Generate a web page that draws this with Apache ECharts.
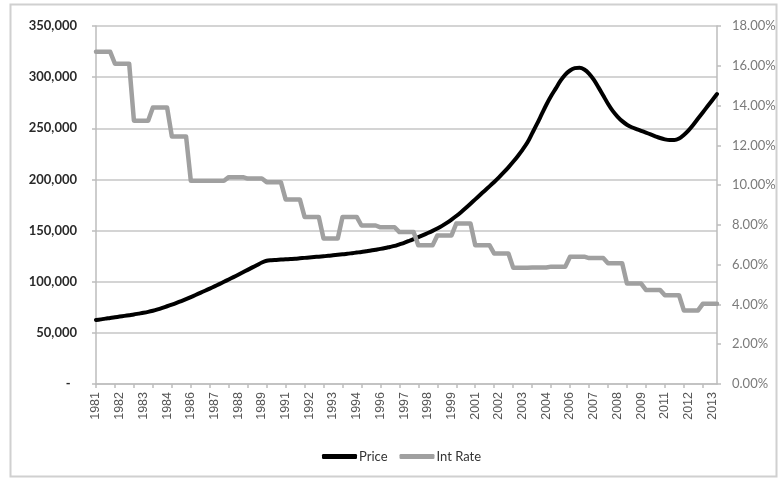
<!DOCTYPE html>
<html>
<head>
<meta charset="utf-8">
<title>Price vs Int Rate</title>
<script src="https://cdn.jsdelivr.net/npm/echarts@6/dist/echarts.min.js"></script>
<style>
  html, body { margin: 0; padding: 0; background: #fff; }
  #chart { width: 781px; height: 481px; }
</style>
</head>
<body>
<div id="chart"></div>
<script>
// years on the axis, data is quarterly (1981 Q1 .. 2013 Q4)
const years = [1981, 1982, 1983, 1984, 1985, 1986, 1987, 1988, 1989, 1990, 1991,
  1992, 1993, 1994, 1995, 1996, 1997, 1998, 1999, 2000, 2001, 2002, 2003, 2004,
  2005, 2006, 2007, 2008, 2009, 2010, 2011, 2012, 2013]

// quarterly price
const price = [
  62500, 63200, 63900, 64500, 65200, 65900, 66600, 67300, 68000, 68800,
  69600, 70500, 71600, 72900, 74400, 76000, 77600, 79300, 81100, 83000,
  85000, 87000, 89100, 91200, 93300, 95400, 97600, 99900, 102200, 104500,
  106800, 109200, 111600, 114000, 116400, 118800, 120500, 121000, 121300, 121600,
  121900, 122200, 122500, 122900, 123300, 123700, 124100, 124500, 124900, 125300,
  125800, 126300, 126800, 127300, 127900, 128500, 129100, 129800, 130500, 131300,
  132100, 133000, 134000, 135000, 136500, 138000, 139800, 141700, 143600, 145600,
  147600, 149700, 152000, 154600, 157500, 160700, 164200, 168000, 172000, 176200,
  180500, 184800, 189000, 193200, 197500, 202000, 206800, 211800, 217200, 223000,
  229200, 236000, 245000, 254000, 263500, 273000, 281500, 289000, 296500, 302500,
  306500, 308800, 309200, 307500, 303500, 297500, 290000, 282000, 274000, 267000,
  261500, 257000, 253500, 251000, 249200, 247500, 245800, 244000, 242200, 240500,
  239200, 238500, 238500, 240000, 243500, 248000, 253500, 259500, 265500, 271500,
  277500, 283500
]

// yearly interest rate (%), held flat for the four quarters of each year
const intRateYearly = [16.7, 16.1, 13.24, 13.9, 12.45, 10.22, 10.22, 10.4, 10.33,
  10.15, 9.28, 8.4, 7.32, 8.4, 7.97, 7.88, 7.64, 6.97, 7.47, 8.07, 6.98, 6.56,
  5.85, 5.86, 5.9, 6.4, 6.33, 6.07, 5.05, 4.73, 4.46, 3.7, 4.03]

const quarters = []
const intRate = []
years.forEach((y, k) => {
  for (let q = 1; q <= 4; q++) {
    quarters.push(y + ' Q' + q)
    intRate.push(intRateYearly[k])
  }
})

const chart = echarts.init(document.getElementById('chart'))

const option = {
  animation: false,
  backgroundColor: '#fff',
  graphic: [{
    type: 'rect',
    shape: { x: 10.5, y: 4.5, width: 766, height: 472 },
    style: { fill: 'none', stroke: '#d0d0d0', lineWidth: 2 },
    silent: true
  }],
  grid: { left: 96, right: 64, top: 26, bottom: 97 },
  legend: {
    data: ['Price', 'Int Rate'],
    left: 317,
    top: 445,
    itemWidth: 35,
    itemHeight: 5,
    itemGap: 12,
    icon: 'roundRect',
    textStyle: { fontFamily: 'Lato', fontSize: 13, color: '#333', padding: [0, 0, 0, -3] }
  },
  xAxis: {
    type: 'category',
    data: quarters,
    boundaryGap: false,
    axisLine: { lineStyle: { color: '#bdbdbd', width: 1.5 } },
    axisTick: { interval: 3, length: 4, lineStyle: { color: '#bdbdbd', width: 1.5 } },
    axisLabel: {
      interval: 4,
      rotate: 90,
      margin: 8,
      fontFamily: 'Liberation Sans',
      fontSize: 12.5,
      color: '#555',
      formatter: v => v.slice(0, 4)
    },
    splitLine: { show: false }
  },
  yAxis: [{
    type: 'value',
    min: 0,
    max: 350000,
    interval: 50000,
    axisLine: { show: true, lineStyle: { color: '#bdbdbd', width: 1.5 } },
    axisTick: { show: true, length: 4, lineStyle: { color: '#bdbdbd', width: 1.5 } },
    axisLabel: {
      margin: 19,
      fontFamily: 'Lato',
      fontWeight: 'bold',
      fontSize: 13,
      color: '#2a2a2a',
      formatter: v => v === 0 ? '-  ' : v.toLocaleString('en-US')
    },
    splitLine: { lineStyle: { color: '#d4d4d4', width: 2 } }
  }, {
    type: 'value',
    min: 0,
    max: 18,
    interval: 2,
    position: 'right',
    axisLine: { show: true, lineStyle: { color: '#bdbdbd', width: 1.5 } },
    axisTick: { show: true, length: 4, lineStyle: { color: '#bdbdbd', width: 1.5 } },
    axisLabel: {
      margin: 15,
      fontFamily: 'Lato',
      fontSize: 13,
      color: '#7a7a7a',
      formatter: v => v.toFixed(2) + '%'
    },
    splitLine: { show: false }
  }],
  series: [{
    name: 'Price',
    type: 'line',
    data: price,
    yAxisIndex: 0,
    showSymbol: false,
    smooth: 0.3,
    itemStyle: { color: '#000' },
    lineStyle: { color: '#000', width: 4, cap: 'round', join: 'round' }
  }, {
    name: 'Int Rate',
    type: 'line',
    data: intRate,
    yAxisIndex: 1,
    showSymbol: false,
    itemStyle: { color: '#a0a0a0' },
    lineStyle: { color: '#a0a0a0', width: 4.5, cap: 'round', join: 'round' }
  }]
}

chart.setOption(option)
</script>
</body>
</html>
